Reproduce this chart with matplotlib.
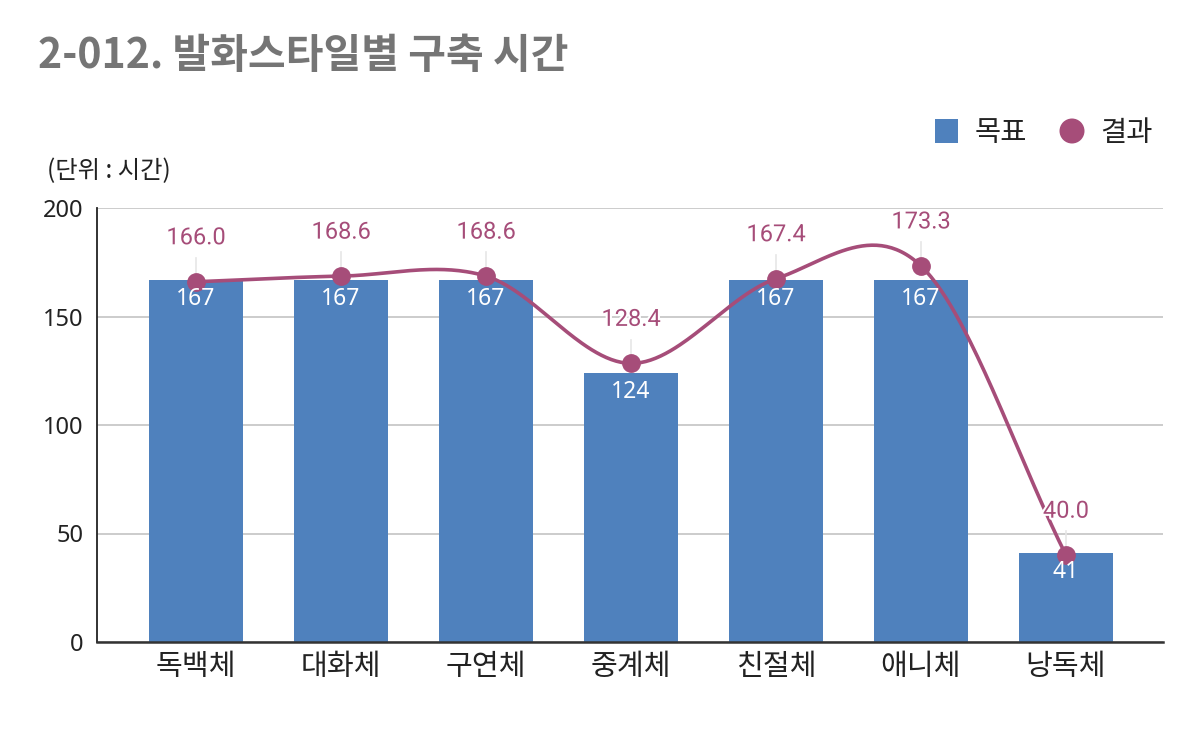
import numpy as np
import matplotlib
matplotlib.use("Agg")
import matplotlib.pyplot as plt
import matplotlib.patheffects as pe
from matplotlib.patches import Rectangle, Ellipse

plt.rcParams['font.family'] = ['Noto Sans CJK KR', 'DejaVu Sans']

categories = ['독백체', '대화체', '구연체', '중계체', '친절체', '애니체', '낭독체']
target = [167, 167, 167, 124, 167, 167, 41]
result = [166.0, 168.6, 168.6, 128.4, 167.4, 173.3, 40.0]
yticks = [0, 50, 100, 150, 200]
series_names = ['목표', '결과']

title = '2-012. 발화스타일별 구축 시간'
unit = '(단위 : 시간)'
bar_color = '#4f81bd'
line_color = '#a64d79'

W, H = 1200, 742
fig = plt.figure(figsize=(12, 7.42), dpi=100)
ax = fig.add_axes([97/W, 1-642/H, (1163-97)/W, (642-208)/H])

x = np.arange(len(categories))
ax.bar(x, target, width=0.65, color=bar_color, zorder=2)

# Catmull-Rom smooth curve through result points
def catmull(xs, ys, n=60):
    xs = np.asarray(xs, float); ys = np.asarray(ys, float)
    N = len(xs)
    out_x, out_y = [], []
    for i in range(N - 1):
        m0 = (ys[i+1] - ys[i-1]) / 2 if i > 0 else (ys[i+1] - ys[i])
        m1 = (ys[i+2] - ys[i]) / 2 if i + 2 < N else (ys[i+1] - ys[i])
        t = np.linspace(0, 1, n)
        h00 = 2*t**3 - 3*t**2 + 1
        h10 = t**3 - 2*t**2 + t
        h01 = -2*t**3 + 3*t**2
        h11 = t**3 - t**2
        out_y.append(h00*ys[i] + h10*m0 + h01*ys[i+1] + h11*m1)
        out_x.append(xs[i] + t*(xs[i+1]-xs[i]))
    return np.concatenate(out_x), np.concatenate(out_y)

cx, cy = catmull(x, result)
ax.plot(cx, cy, color=line_color, lw=2.6, zorder=4, solid_capstyle='round')
ax.plot(x, result, 'o', color=line_color, ms=12.5, zorder=5)

for xi, r in zip(x, result):
    ax.plot([xi, xi], [r, r + 11], color='#e6e6e6', lw=1.2, zorder=3)
    ax.annotate(f'{r:.1f}', (xi, r), xytext=(0, 44), textcoords='offset pixels',
                ha='center', va='center', fontsize=17, color=line_color,
                family=['Roboto', 'DejaVu Sans'], zorder=6,
                path_effects=[pe.withStroke(linewidth=3, foreground='white')])

for xi, t in zip(x, target):
    ax.annotate(f'{t}', (xi, t), xytext=(0, -19), textcoords='offset pixels',
                ha='center', va='center', fontsize=16.5, color='white',
                family=['Noto Sans', 'DejaVu Sans'], fontweight='medium', zorder=6)

ax.set_xlim(-0.683, 6.669)
ax.set_ylim(0, 200)
ax.set_yticks(yticks)
ax.set_yticklabels([str(v) for v in yticks], fontsize=17, family=['Noto Sans', 'DejaVu Sans'])
ax.set_xticks(x)
ax.set_xticklabels(categories, fontsize=21)
ax.tick_params(axis='both', length=0, colors='#222222')
ax.tick_params(axis='y', pad=10)
ax.tick_params(axis='x', pad=7)
ax.grid(axis='y', color='#c8c8c8', lw=1.3, zorder=0)
ax.set_axisbelow(True)
for s in ['top', 'right']:
    ax.spines[s].set_visible(False)
ax.spines['left'].set_color('#222222')
ax.spines['left'].set_linewidth(1.3)
ax.spines['bottom'].set_color('#333333')
ax.spines['bottom'].set_linewidth(1.8)

fig.text(38/W, 1-56/H, title, fontsize=29.5, fontweight='bold', color='#757575',
         ha='left', va='center')
fig.text(47/W, 1-171/H, unit, fontsize=17.5, color='#222222', ha='left', va='center')

# legend drawn manually in figure pixel coordinates
ly = 131
fig.patches.append(Rectangle((935/W, 1-(ly+11.5)/H), 23/W, 23/H, transform=fig.transFigure,
                             facecolor=bar_color, edgecolor='none'))
fig.patches.append(Ellipse((1072/W, 1-ly/H), 25/W, 25/H, transform=fig.transFigure,
                           facecolor=line_color, edgecolor='none'))
fig.text(975/W, 1-(ly+2)/H, series_names[0], fontsize=20.5, color='#222222', ha='left', va='center')
fig.text(1100/W, 1-(ly+2)/H, series_names[1], fontsize=20.5, color='#222222', ha='left', va='center')

fig.savefig('out.png', dpi=100)
